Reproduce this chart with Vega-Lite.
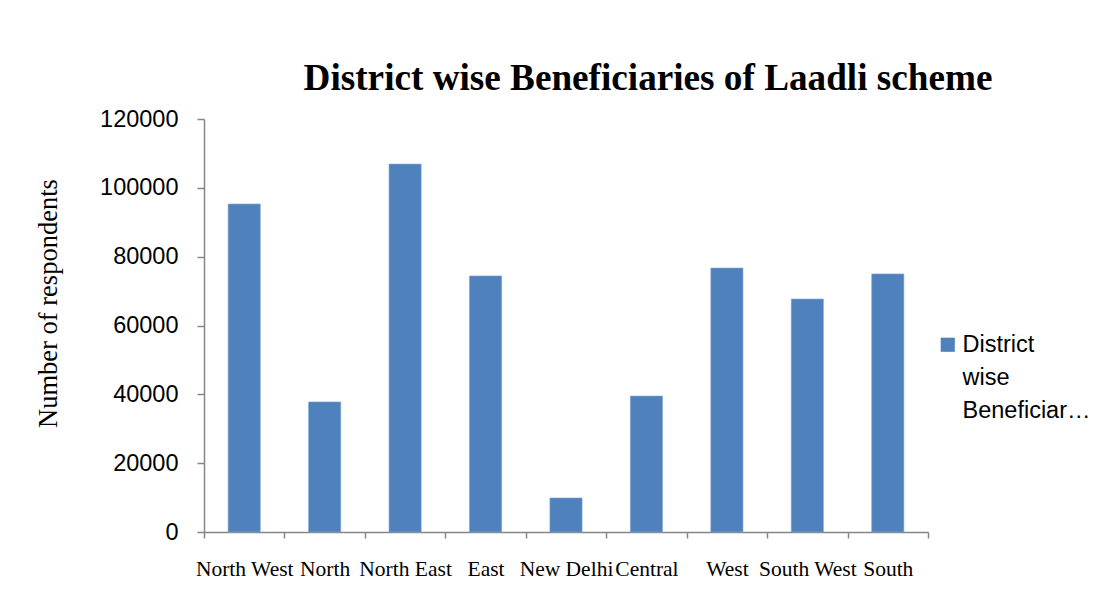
{
  "$schema": "https://vega.github.io/schema/vega-lite/v6.json",
  "autosize": {"type": "none"},
  "width": 724,
  "height": 413,
  "padding": {"left": 204, "top": 119, "right": 180, "bottom": 63},
  "background": "white",
  "title": {
    "text": "District wise Beneficiaries of Laadli scheme",
    "font": "Liberation Serif",
    "fontSize": 37.2,
    "fontWeight": "bold",
    "color": "#000000",
    "anchor": "middle",
    "dx": 82,
    "offset": 9
  },
  "data": {
    "values": [
      {"district": "North West", "value": 95300, "series": "District wise Beneficiaries"},
      {"district": "North", "value": 37800, "series": "District wise Beneficiaries"},
      {"district": "North East", "value": 106900, "series": "District wise Beneficiaries"},
      {"district": "East", "value": 74400, "series": "District wise Beneficiaries"},
      {"district": "New Delhi", "value": 9900, "series": "District wise Beneficiaries"},
      {"district": "Central", "value": 39500, "series": "District wise Beneficiaries"},
      {"district": "West", "value": 76700, "series": "District wise Beneficiaries"},
      {"district": "South West", "value": 67700, "series": "District wise Beneficiaries"},
      {"district": "South", "value": 75000, "series": "District wise Beneficiaries"}
    ]
  },
  "mark": {"type": "bar", "width": {"band": 0.4}, "stroke": "#7FA6D6", "strokeWidth": 0.6},
  "encoding": {
    "x": {
      "field": "district",
      "type": "nominal",
      "sort": null,
      "scale": {"paddingInner": 0, "paddingOuter": 0},
      "axis": {
        "title": null,
        "labelAngle": 0,
        "labelFont": "Liberation Serif",
        "labelFontSize": 21.5,
        "labelColor": "#000000",
        "labelPadding": 20,
        "labelOverlap": false,
        "labelLimit": 200,
        "domainColor": "#868686",
        "domainWidth": 1.5,
        "ticks": true,
        "tickColor": "#868686",
        "tickWidth": 1.5,
        "tickSize": 6,
        "tickBand": "extent"
      }
    },
    "y": {
      "field": "value",
      "type": "quantitative",
      "scale": {"domain": [0, 120000]},
      "axis": {
        "title": "Number of respondents",
        "titleFont": "Liberation Serif",
        "titleFontSize": 26.5,
        "titleFontWeight": "normal",
        "titleColor": "#000000",
        "titleX": -142,
        "titleY": 184,
        "values": [0, 20000, 40000, 60000, 80000, 100000, 120000],
        "format": "d",
        "labelFont": "Liberation Sans",
        "labelFontSize": 23.5,
        "labelColor": "#000000",
        "labelPadding": 19,
        "grid": false,
        "domainColor": "#868686",
        "domainWidth": 1.5,
        "tickColor": "#868686",
        "tickWidth": 1.5,
        "tickSize": 7
      }
    },
    "color": {
      "field": "series",
      "type": "nominal",
      "scale": {"range": ["#4F81BD"]},
      "legend": {
        "title": null,
        "orient": "none",
        "legendX": 732,
        "legendY": 214,
        "symbolType": "square",
        "symbolSize": 200,
        "symbolStrokeWidth": 0,
        "labelFont": "Liberation Sans",
        "labelFontSize": 23.5,
        "labelColor": "#000000",
        "labelExpr": "['District', 'wise', 'Beneficiar…']",
        "labelBaseline": "middle",
        "labelOffset": 3
      }
    }
  },
  "config": {
    "view": {"stroke": null},
    "style": {"guide-label": {"lineHeight": 33}}
  }
}
